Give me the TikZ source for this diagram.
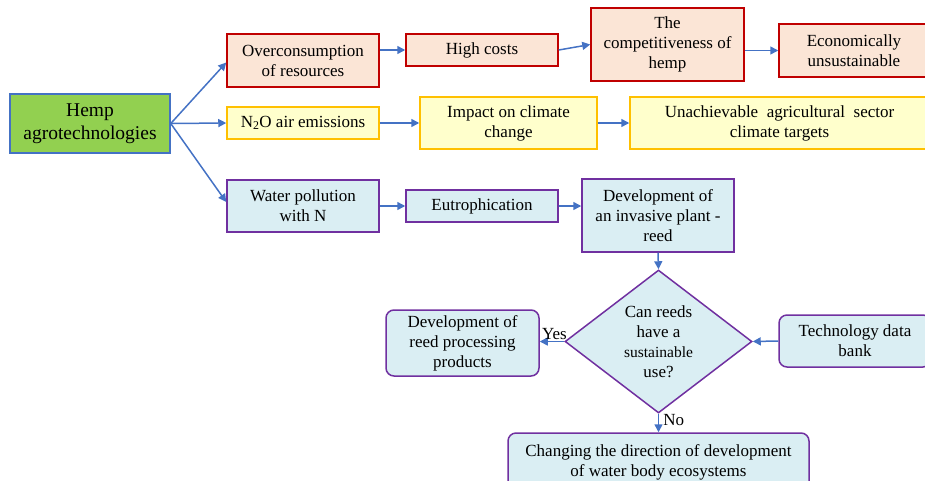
\documentclass[tikz,border=0pt]{standalone}
\usepackage{fontspec}
\setmainfont{Liberation Serif}
\usetikzlibrary{arrows.meta,shapes.geometric}
\definecolor{bred}{HTML}{C00000}
\definecolor{fpeach}{HTML}{FBE5D6}
\definecolor{byellow}{HTML}{FFC000}
\definecolor{fyellow}{HTML}{FFFFCC}
\definecolor{bpurple}{HTML}{7030A0}
\definecolor{fcyan}{HTML}{DAEEF3}
\definecolor{fgreen}{HTML}{92D050}
\definecolor{ablue}{HTML}{4472C4}
\tikzset{
  base/.style={draw, line width=1.5pt, align=center, inner sep=0pt,
    font=\fontsize{17}{20}\selectfont},
  redbox/.style={base, draw=bred, fill=fpeach},
  yelbox/.style={base, draw=byellow, fill=fyellow},
  cyanbox/.style={base, draw=bpurple, fill=fcyan},
  roundbox/.style={cyanbox, rounded corners=8pt},
  greenbox/.style={base, draw=ablue, fill=fgreen,
    font=\fontsize{19.5}{23}\selectfont},
  decision/.style={base, diamond, draw=bpurple, fill=fcyan},
  arr/.style={draw=ablue, line width=1.5pt,
    -{Triangle[length=8pt,width=8pt]}},
  tag/.style={font=\fontsize{17}{20}\selectfont, inner sep=1pt}
}
\begin{document}
\begin{tikzpicture}[x=1pt,y=-1pt]
\useasboundingbox (0,0) rectangle (925,480);

% first column
\node[greenbox, minimum width=160pt, minimum height=59pt] (hemp) at (90,123.5) {Hemp\\agrotechnologies};

% economic chain
\node[redbox, minimum width=152pt, minimum height=53pt] (over) at (303,60.5) {Overconsumption\\of resources};
\node[redbox, minimum width=152pt, minimum height=32pt] (cost) at (482,50) {High costs};
\node[redbox, minimum width=153pt, minimum height=73pt] (comp) at (667.5,44.5) {The\\competitiveness of\\hemp};
\node[redbox, minimum width=150pt, minimum height=53pt] (econ) at (854,50.5) {Economically\\unsustainable};

% climate chain
\node[yelbox, minimum width=152pt, minimum height=32pt] (n2o) at (303,123) {N\textsubscript{2}O air emissions};
\node[yelbox, minimum width=177pt, minimum height=52pt] (clim) at (508.5,123) {Impact on climate\\change};
\node[yelbox, minimum width=299pt, minimum height=52pt] (targ) at (779.5,123) {Unachievable\ \ agricultural\ \ sector\\climate\ targets};

% water chain
\node[cyanbox, minimum width=152pt, minimum height=52pt] (water) at (303,206) {Water pollution\\with N};
\node[cyanbox, minimum width=152pt, minimum height=32pt] (eutro) at (482,206) {Eutrophication};
\node[cyanbox, minimum width=152pt, minimum height=73pt] (reed) at (658,215.5) {Development of\\an invasive plant -\\reed};

% decision and outcomes
\node[decision, minimum width=187pt, minimum height=143pt] (q) at (658.5,341.5)
  {Can reeds\\have a\\{\fontsize{15.5}{20}\selectfont sustainable}\\use?};
\node[roundbox, minimum width=153pt, minimum height=66pt] (prod) at (462.5,343) {Development of\\reed processing\\products};
\node[roundbox, minimum width=152pt, minimum height=52pt] (bank) at (855,341) {Technology\ data\\bank};
\node[roundbox, minimum width=301pt, minimum height=58pt] (chg) at (658.5,462) {Changing the direction of development\\of water body ecosystems};

% connectors
\draw[arr] (hemp.east) -- ([yshift=-2pt]over.west);
\draw[arr] (hemp.east) -- (n2o.west);
\draw[arr] (hemp.east) -- ([yshift=4pt]water.west);
\draw[arr] (over.east |- cost.west) -- (cost.west);
\draw[arr] (cost.east) -- (comp.west);
\draw[arr] (comp.east |- econ.west) -- (econ.west);
\draw[arr] (n2o.east) -- (clim.west);
\draw[arr] (clim.east) -- (targ.west);
\draw[arr] (water.east) -- (eutro.west);
\draw[arr] (eutro.east) -- (reed.west |- eutro.east);
\draw[arr] (reed.south) -- (q.north);
\draw[arr] (q.west) -- (q.west -| prod.east) node[tag, pos=0.4, above] {Yes};
\draw[arr] (bank.west) -- (q.east);
\draw[arr] (q.south) -- (chg.north) node[tag, pos=0.35, right=3pt] {No};
\end{tikzpicture}
\end{document}
